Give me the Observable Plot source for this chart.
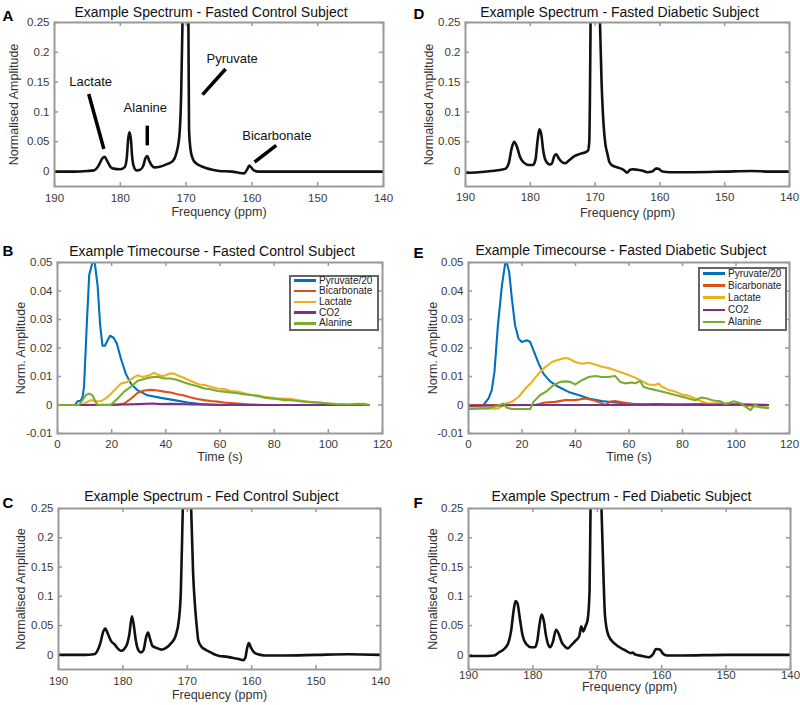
<!DOCTYPE html>
<html><head><meta charset="utf-8">
<script src="https://cdn.jsdelivr.net/npm/d3@7"></script>
<script src="https://cdn.jsdelivr.net/npm/@observablehq/plot@0.6"></script>
<style>
body{margin:0;background:#fff;font-family:"Liberation Sans",Arial,sans-serif;}
#wrap{position:relative;width:800px;height:705px;overflow:hidden;background:#fff;}
.panel{position:absolute;}
.legend{position:absolute;border:2px solid #666;background:#fff;font-size:10px;color:#222;box-sizing:border-box;}
.legend .sw{position:absolute;height:2.5px;}
.legend .lb{position:absolute;white-space:nowrap;}
</style></head><body><div id="wrap"></div><script>
// ---------- tick values ----------
const spectrumXTicks = [190, 180, 170, 160, 150, 140];
const spectrumYTicks = [0, 0.05, 0.1, 0.15, 0.2, 0.25];
const timeXTicks = [0, 20, 40, 60, 80, 100, 120];
const timeYTicks = [-0.01, 0, 0.01, 0.02, 0.03, 0.04, 0.05];

// ---------- spectra [ppm, amplitude] ----------
const specFastedControl = [
 [190,0],[187,0],[185,0.001],[184,0.002],[183.3,0.01],[182.8,0.021],[182.4,0.025],[182.0,0.018],[181.5,0.008],[181.0,0.005],
 [180.0,0.004],[179.3,0.008],[179.0,0.025],[178.8,0.055],[178.6,0.066],[178.4,0.055],[178.2,0.025],[177.9,0.007],[177.5,0.002],
 [177.0,0.003],[176.5,0.01],[176.2,0.022],[175.9,0.026],[175.6,0.018],[175.2,0.01],[174.8,0.007],[174.0,0.008],[173.0,0.012],
 [172.0,0.018],[171.5,0.03],[171.0,0.063],[170.75,0.13],[170.55,0.25],[170.1,0.6],[169.65,0.25],[169.55,0.07],[169.3,0.035],
 [169.0,0.022],[168.5,0.014],[167.7,0.009],[167.0,0.006],[166.0,0.003],[165.0,0.001],[163.0,0],[162.0,-0.002],[161.2,-0.003],
 [160.7,0.004],[160.4,0.01],[160.1,0.007],[159.7,0.002],[159.0,0],[150,0],[140,0]
];
const specFastedDiabetic = [
 [190,-0.002],[188,-0.001],[186,0.001],[184.5,0.003],[183.8,0.005],[183.3,0.015],[182.9,0.038],[182.5,0.05],[182.1,0.043],
 [181.6,0.025],[181.0,0.015],[180.2,0.011],[179.6,0.011],[179.2,0.02],[178.9,0.05],[178.6,0.071],[178.3,0.062],[178.0,0.035],
 [177.6,0.018],[177.0,0.012],[176.7,0.013],[176.3,0.026],[176.0,0.029],[175.6,0.022],[175.0,0.015],[174.6,0.014],[174.0,0.019],
 [173.2,0.026],[172.5,0.029],[171.6,0.032],[171.1,0.035],[170.9,0.05],[170.8,0.12],[170.7,0.25],[170.0,0.7],[169.25,0.25],
 [169.0,0.15],[168.7,0.08],[168.4,0.045],[168.1,0.03],[167.8,0.016],[167.3,0.01],[166.5,0.007],[165.8,0.004],[165.4,0.001],
 [165.1,-0.002],[164.6,0.003],[164.2,0.004],[163.5,0.003],[162.5,0.001],[162.0,-0.001],[161.2,0],[160.6,0.005],[160.3,0.005],
 [159.6,0],[158.5,-0.001],[155,-0.001],[150,0],[146,0.001],[143,0],[140,0]
];
const specFedControl = [
 [190,0],[186,0],[184.5,0.001],[184.0,0.006],[183.5,0.02],[183.1,0.038],[182.75,0.045],[182.3,0.035],[181.8,0.023],[181.3,0.018],
 [180.8,0.011],[180.3,0.007],[179.8,0.01],[179.3,0.02],[179.0,0.035],[178.6,0.066],[178.3,0.05],[178.0,0.025],[177.6,0.008],
 [177.2,0.004],[176.8,0.008],[176.4,0.03],[176.1,0.038],[175.8,0.028],[175.4,0.015],[174.8,0.012],[174.0,0.009],[173.3,0.012],
 [172.5,0.02],[171.8,0.033],[171.3,0.06],[171.0,0.11],[170.8,0.2],[170.7,0.25],[170.1,0.7],[169.4,0.25],[169.1,0.14],
 [168.8,0.083],[168.5,0.045],[168.3,0.025],[167.8,0.014],[167.2,0.009],[166.7,0.006],[166.0,0.002],[165.0,-0.002],[164.0,-0.003],
 [163.0,-0.005],[162.0,-0.007],[161.3,-0.009],[161.0,-0.005],[160.7,0.012],[160.45,0.02],[160.1,0.012],[159.6,0.004],
 [159.0,0.001],[158.0,-0.001],[155,-0.001],[150,0],[145,0.001],[140,0]
];
const specFedDiabetic = [
 [190,-0.002],[188,-0.002],[186,-0.001],[185.3,0.004],[184.7,0.008],[184.2,0.013],[183.8,0.021],[183.4,0.04],[183.0,0.075],
 [182.7,0.092],[182.4,0.088],[182.0,0.06],[181.6,0.033],[181.0,0.018],[180.3,0.013],[179.7,0.013],[179.3,0.025],[179.0,0.05],
 [178.65,0.069],[178.3,0.058],[178.0,0.035],[177.6,0.017],[177.3,0.013],[176.9,0.022],[176.4,0.043],[176.0,0.036],[175.5,0.021],
 [175.0,0.014],[174.6,0.011],[174.0,0.017],[173.4,0.024],[172.8,0.032],[172.5,0.049],[172.2,0.04],[171.8,0.05],[171.5,0.06],
 [171.2,0.11],[171.05,0.25],[170.2,0.7],[169.35,0.25],[169.0,0.12],[168.8,0.066],[168.3,0.034],[167.3,0.019],[165.7,0.008],
 [164.8,0.003],[164.5,0.004],[164.2,0.001],[163.0,-0.002],[162.0,-0.004],[161.3,0.002],[160.9,0.01],[160.3,0.009],[159.8,0.002],
 [159.2,-0.001],[157,-0.001],[150,0],[145,0],[140,0]
];

// ---------- annotations for panel A ----------
const annotLabels = [
 {text:"Lactate", ppm:184.5, amp:0.150},
 {text:"Alanine", ppm:176.2, amp:0.107},
 {text:"Pyruvate", ppm:163.0, amp:0.189},
 {text:"Bicarbonate", ppm:156.2, amp:0.060}
];
const annotLines = [
 {ppm1:184.8, amp1:0.130, ppm2:182.5, amp2:0.038},
 {ppm1:175.9, amp1:0.077, ppm2:175.9, amp2:0.044},
 {ppm1:164.0, amp1:0.172, ppm2:167.5, amp2:0.129},
 {ppm1:156.3, amp1:0.044, ppm2:159.6, amp2:0.016}
];

// ---------- timecourses [time s, amplitude] ----------
const seriesNames = ["Pyruvate/20", "Bicarbonate", "Lactate", "CO2", "Alanine"];
const seriesColors = ["#0072BD", "#D95319", "#EDB120", "#7E2F8E", "#77AC30"];

const ctrlPyruvate = [[0,0],[3,0],[6.5,0],[7.4,0.0013],[8.6,0.0015],[9.3,0.003],[9.8,0.0065],[10.8,0.028],[11.7,0.0456],[12.9,0.05],[13.8,0.0496],[14.8,0.042],[15.75,0.028],[16.6,0.0208],[17.5,0.0208],[18.5,0.0227],[19.4,0.0243],[20.7,0.0236],[21.9,0.0216],[23.4,0.0163],[25.2,0.011],[27.1,0.0075],[29.5,0.0052],[33.2,0.0034],[38.2,0.0025],[43.1,0.0017],[48,0.0009],[52.9,0.0003],[59,0],[70,0],[90,0],[115,0]];
const ctrlBicarbonate = [[0,0],[20,0],[22.5,0.0002],[24.6,0.0005],[27.1,0.0022],[29.5,0.0042],[32,0.0051],[34.5,0.0053],[36.9,0.0051],[39.4,0.0047],[41.8,0.0044],[44.3,0.0038],[46.8,0.0033],[49.2,0.0026],[51.7,0.0021],[54.2,0.0017],[56.6,0.0014],[59,0.0012],[61.5,0.0009],[64,0.0007],[66.5,0.0005],[71.4,0.0002],[76,0],[115,0]];
const ctrlLactate = [[0,0],[9,0],[10.5,0.0008],[12.3,0.0017],[14,0.0014],[16,0.0013],[18.5,0.0028],[20.9,0.0051],[23.4,0.0075],[25.8,0.0081],[28.3,0.0098],[29.5,0.0104],[31.4,0.0098],[33.8,0.0104],[35.7,0.0113],[37.5,0.0104],[39.4,0.0102],[41.2,0.011],[43.1,0.011],[44.9,0.0102],[46.8,0.0095],[48.6,0.0087],[50.5,0.0079],[52.3,0.0072],[54.2,0.007],[56.6,0.0064],[59,0.0058],[61.5,0.0056],[64,0.0049],[66.5,0.0047],[68.9,0.0041],[71.4,0.0035],[73.8,0.0033],[76.3,0.0029],[78.8,0.0026],[81.2,0.0023],[83.7,0.0023],[86.2,0.0021],[88.6,0.0017],[92,0.0012],[97,0.0009],[102,0.0003],[107,0.0002],[110,0.0001],[113,0.0005],[115,0]];
const ctrlCO2 = [[0,0],[10,0],[20,0.0001],[25,0.0002],[30,0.0003],[35,0.0005],[38,0.0003],[42,0.0004],[50,0.0002],[60,0.0001],[70,0],[80,0],[90,0],[100,0],[115,0]];
const ctrlAlanine = [[0,0],[8,0],[9.2,0.0017],[10.5,0.0035],[11.7,0.004],[12.9,0.0034],[14.2,0.0009],[14.8,0],[19.7,0],[22.2,0.0023],[24.6,0.0047],[27.1,0.0064],[29.5,0.0084],[32,0.0091],[34.5,0.0097],[36.9,0.0099],[39.4,0.0093],[41.8,0.0093],[44.3,0.0088],[46.8,0.0079],[49.2,0.0072],[51.7,0.0066],[54.2,0.0058],[56.6,0.0055],[59,0.0049],[61.5,0.0047],[64,0.0044],[66.5,0.0041],[68.9,0.0038],[71.4,0.0035],[73.8,0.0032],[76.3,0.0026],[78.8,0.0023],[81.2,0.0021],[83.7,0.0017],[86.2,0.0017],[88.6,0.0014],[91,0.0012],[93.5,0.001],[97,0.0008],[100,0.0005],[103,0.0003],[107,0.0002],[111,0.0004],[115,0]];

const diabPyruvate = [[0,0],[5.6,0],[7.5,0.0023],[8.7,0.0052],[9.7,0.0116],[11,0.028],[12.5,0.042],[13.7,0.0496],[14.3,0.05],[15.2,0.0467],[16.2,0.0374],[17.4,0.028],[18.7,0.0233],[19.9,0.0221],[21.8,0.0227],[23.1,0.0221],[24.3,0.0192],[26.2,0.0146],[28,0.011],[30.5,0.0083],[33.6,0.0064],[37.4,0.0046],[41.1,0.0035],[44.9,0.0023],[49.8,0.0014],[54.8,0.0009],[62.3,0.0003],[68.5,0],[112,0]];
const diabBicarbonate = [[0,0],[20,0],[24.9,0],[28.7,0.0009],[32.4,0.0011],[36.1,0.0017],[39.9,0.0017],[43.6,0.0023],[46.7,0.0017],[49.2,0.0009],[51.1,0],[53,0.0012],[54.8,0.0014],[57.9,0.0009],[61.1,0.0003],[65,0],[75,0.0002],[85,0.0003],[95,0.0005],[105,0.0002],[112,0]];
const diabLactate = [[0,-0.0012],[5,-0.0012],[9.5,-0.0013],[11.2,-0.0012],[13.7,0.0005],[16.2,0.0011],[18.7,0.0028],[21.2,0.0057],[23.7,0.0081],[26.2,0.011],[28.7,0.0133],[31.2,0.0151],[33.6,0.0159],[36.1,0.0165],[37.4,0.0163],[39.9,0.0151],[42.4,0.0145],[44.9,0.0148],[47.4,0.0142],[49.8,0.0134],[52.3,0.013],[54.8,0.0122],[57.3,0.0114],[59.8,0.0105],[62.3,0.0096],[64.8,0.0084],[67.3,0.0072],[69.8,0.007],[71,0.0076],[72.3,0.0064],[74.8,0.0053],[77.3,0.0047],[79.8,0.0037],[82.2,0.0033],[84.7,0.0023],[87.2,0.0012],[89.1,0.0006],[94,0.0005],[99.2,0.0003],[105,-0.0003],[112,-0.001]];
const diabCO2 = [[0,-0.0003],[10,-0.0002],[20,0],[40,0],[60,0],[70,0.0003],[80,0.0001],[100,0.0002],[112,0]];
const diabAlanine = [[0,-0.0014],[7.5,-0.0011],[11.2,-0.0002],[13.1,0.0005],[14.3,-0.001],[16.2,-0.0014],[23.1,-0.0014],[24.3,0.0011],[26.8,0.0035],[29.3,0.0049],[31.8,0.007],[34.3,0.0081],[36.1,0.0083],[38,0.0081],[39.9,0.0072],[42.4,0.0087],[44.9,0.0098],[47.4,0.0102],[49.8,0.0098],[52.3,0.0098],[54.8,0.0102],[56.7,0.0081],[58.6,0.0076],[61.1,0.0079],[62.3,0.0076],[64.2,0.0084],[65.4,0.0064],[67.3,0.0058],[69.8,0.0053],[72.3,0.0047],[74.8,0.0041],[77.3,0.0035],[79.8,0.0029],[82.2,0.0023],[84.7,0.0017],[87.2,0.0026],[89.1,0.0023],[91.5,0.0016],[94.2,0.0013],[96,0.0003],[99.2,0.0013],[102,0.0005],[105.4,-0.0018],[107,0],[109,-0.0008],[112,-0.001]];

// ---------- helpers ----------
const FONT = "Liberation Sans, Arial, Helvetica, sans-serif";
const wrap = document.getElementById("wrap");
const toSpec = arr => arr.map(([ppm, amp]) => ({ppm, amp}));
const toTC = (lists) => lists.flatMap((arr, i) => arr.map(([t, v]) => ({t, v, series: seriesNames[i]})));
const fmt = d => String(d);

function panel(cfg) {
  const innerW = cfg.width - cfg.ml - cfg.mr, innerH = cfg.height - cfg.mt - cfg.mb;
  const tc = "#9a9a9a";
  const marks = [
    Plot.tickX(cfg.xTicks, {x: d => d, insetTop: innerH - 4, stroke: tc, strokeWidth: 1.5}),
    Plot.tickX(cfg.xTicks, {x: d => d, insetBottom: innerH - 4, stroke: tc, strokeWidth: 1.5}),
    Plot.tickY(cfg.yTicks, {y: d => d, insetRight: innerW - 4, stroke: tc, strokeWidth: 1.5}),
    Plot.tickY(cfg.yTicks, {y: d => d, insetLeft: innerW - 4, stroke: tc, strokeWidth: 1.5}),
    Plot.axisX(cfg.xTicks, {tickSize: 0, tickPadding: cfg.xpad, label: null, tickFormat: fmt, fontSize: 11.5}),
    Plot.axisY(cfg.yTicks, {tickSize: 0, tickPadding: 5, label: null, tickFormat: fmt, fontSize: 11.5}),
    ...cfg.marks,
    Plot.frame({stroke: tc, strokeWidth: 2}),
    Plot.text([cfg.title], {text: d => d, frameAnchor: "top", dx: -8, dy: -cfg.titleDy, fontSize: 14, fill: "#111"}),
    Plot.text([cfg.letter], {text: d => d, frameAnchor: "top-left", textAnchor: "start", dx: cfg.letterDx, dy: cfg.letterDy, fontWeight: "bold", fontSize: 15, fill: "#000"}),
    Plot.text([cfg.xlabel], {text: d => d, frameAnchor: "bottom", dy: cfg.xlabelDy, fontSize: 12.5, fill: "#333"}),
    Plot.text([cfg.ylabel], {text: d => d, frameAnchor: "left", textAnchor: "middle", dx: cfg.ylabelDx, rotate: -90, fontSize: 12.5, fill: "#333"})
  ];
  const svg = Plot.plot({
    width: cfg.width, height: cfg.height,
    marginLeft: cfg.ml, marginRight: cfg.mr, marginTop: cfg.mt, marginBottom: cfg.mb,
    style: {fontFamily: FONT, color: "#3a3a3a", background: "transparent", overflow: "visible"},
    x: cfg.x, y: cfg.y, color: cfg.color,
    marks
  });
  svg.classList.add("panel");
  svg.style.left = cfg.left + "px";
  svg.style.top = cfg.top + "px";
  wrap.appendChild(svg);
}

function spectrumMarks(data) {
  return [Plot.line(toSpec(data), {x: "ppm", y: "amp", stroke: "#111", strokeWidth: 2.6, curve: "monotone-x", clip: true})];
}
function timeMarks(lists) {
  return [Plot.line(toTC(lists), {x: "t", y: "v", stroke: "series", z: "series", strokeWidth: 2.1, curve: "linear", clip: true})];
}
function legend(left, top, width, height, firstY, rowH, swLeft, swW, txtLeft) {
  const div = document.createElement("div");
  div.className = "legend";
  Object.assign(div.style, {left: left + "px", top: top + "px", width: width + "px", height: height + "px"});
  seriesNames.forEach((name, i) => {
    const cy = firstY + i * rowH;
    const sw = document.createElement("div");
    sw.className = "sw";
    Object.assign(sw.style, {left: swLeft + "px", width: swW + "px", top: (cy - 1.25) + "px", background: seriesColors[i]});
    const lb = document.createElement("div");
    lb.className = "lb";
    lb.textContent = name;
    Object.assign(lb.style, {left: txtLeft + "px", top: (cy - 6) + "px", lineHeight: "12px"});
    div.appendChild(sw); div.appendChild(lb);
  });
  wrap.appendChild(div);
}

const specX = {domain: [190, 140]};
const specY = {domain: [-0.025, 0.25]};
const timeX = {domain: [0, 120]};
const timeY = {domain: [-0.01, 0.05]};
const colorScale = {domain: seriesNames, range: seriesColors};

// Panel A
panel({left: 0, top: 0, width: 400, height: 230, ml: 54, mr: 17, mt: 22, mb: 44,
  xTicks: spectrumXTicks, yTicks: spectrumYTicks, x: specX, y: specY, xpad: 7,
  title: "Example Spectrum - Fasted Control Subject", titleDy: 15,
  letter: "A", letterDx: -52, letterDy: -12,
  xlabel: "Frequency (ppm)", xlabelDy: 29, ylabel: "Normalised Amplitude", ylabelDx: -41,
  marks: [
    ...spectrumMarks(specFastedControl),
    Plot.link(annotLines, {x1: "ppm1", y1: "amp1", x2: "ppm2", y2: "amp2", stroke: "#000", strokeWidth: 3.5}),
    Plot.text(annotLabels, {x: "ppm", y: "amp", text: "text", fontSize: 13, fill: "#111"})
  ]});
// Panel D
panel({left: 400, top: 0, width: 400, height: 230, ml: 65, mr: 11, mt: 22, mb: 44,
  xTicks: spectrumXTicks, yTicks: spectrumYTicks, x: specX, y: specY, xpad: 6,
  title: "Example Spectrum - Fasted Diabetic Subject", titleDy: 15,
  letter: "D", letterDx: -52, letterDy: -14,
  xlabel: "Frequency (ppm)", xlabelDy: 30, ylabel: "Normalised Amplitude", ylabelDx: -37,
  marks: spectrumMarks(specFastedDiabetic)});
// Panel B
panel({left: 0, top: 230, width: 400, height: 240, ml: 57, mr: 18, mt: 32, mb: 37,
  xTicks: timeXTicks, yTicks: timeYTicks, x: timeX, y: timeY, color: colorScale, xpad: 6,
  title: "Example Timecourse - Fasted Control Subject", titleDy: 16,
  letter: "B", letterDx: -55, letterDy: -17,
  xlabel: "Time (s)", xlabelDy: 27, ylabel: "Norm. Amplitude", ylabelDx: -37,
  marks: timeMarks([ctrlPyruvate, ctrlBicarbonate, ctrlLactate, ctrlCO2, ctrlAlanine])});
// Panel E
panel({left: 400, top: 230, width: 400, height: 240, ml: 68, mr: 11, mt: 32, mb: 37,
  xTicks: timeXTicks, yTicks: timeYTicks, x: timeX, y: timeY, color: colorScale, xpad: 6,
  title: "Example Timecourse - Fasted Diabetic Subject", titleDy: 17,
  letter: "E", letterDx: -55, letterDy: -15,
  xlabel: "Time (s)", xlabelDy: 27, ylabel: "Norm. Amplitude", ylabelDx: -36,
  marks: timeMarks([diabPyruvate, diabBicarbonate, diabLactate, diabCO2, diabAlanine])});
// Panel C
panel({left: 0, top: 470, width: 400, height: 235, ml: 58, mr: 20, mt: 38, mb: 36,
  xTicks: spectrumXTicks, yTicks: spectrumYTicks, x: specX, y: specY, xpad: 7,
  title: "Example Spectrum - Fed Control Subject", titleDy: 17,
  letter: "C", letterDx: -56, letterDy: -11,
  xlabel: "Frequency (ppm)", xlabelDy: 29, ylabel: "Normalised Amplitude", ylabelDx: -38,
  marks: spectrumMarks(specFedControl)});
// Panel F
panel({left: 400, top: 470, width: 400, height: 235, ml: 68, mr: 10, mt: 38, mb: 36,
  xTicks: spectrumXTicks, yTicks: spectrumYTicks, x: specX, y: specY, xpad: 1,
  title: "Example Spectrum - Fed Diabetic Subject", titleDy: 17,
  letter: "F", letterDx: -55, letterDy: -11,
  xlabel: "Frequency (ppm)", xlabelDy: 21, ylabel: "Normalised Amplitude", ylabelDx: -36,
  marks: spectrumMarks(specFedDiabetic)});

// Legends (HTML overlays inside the timecourse frames)
legend(289, 275, 90, 56, 3.5, 10.7, 3, 22, 28);
legend(698, 267, 89, 64, 4.5, 12.1, 3, 22, 28);
</script></body></html>
